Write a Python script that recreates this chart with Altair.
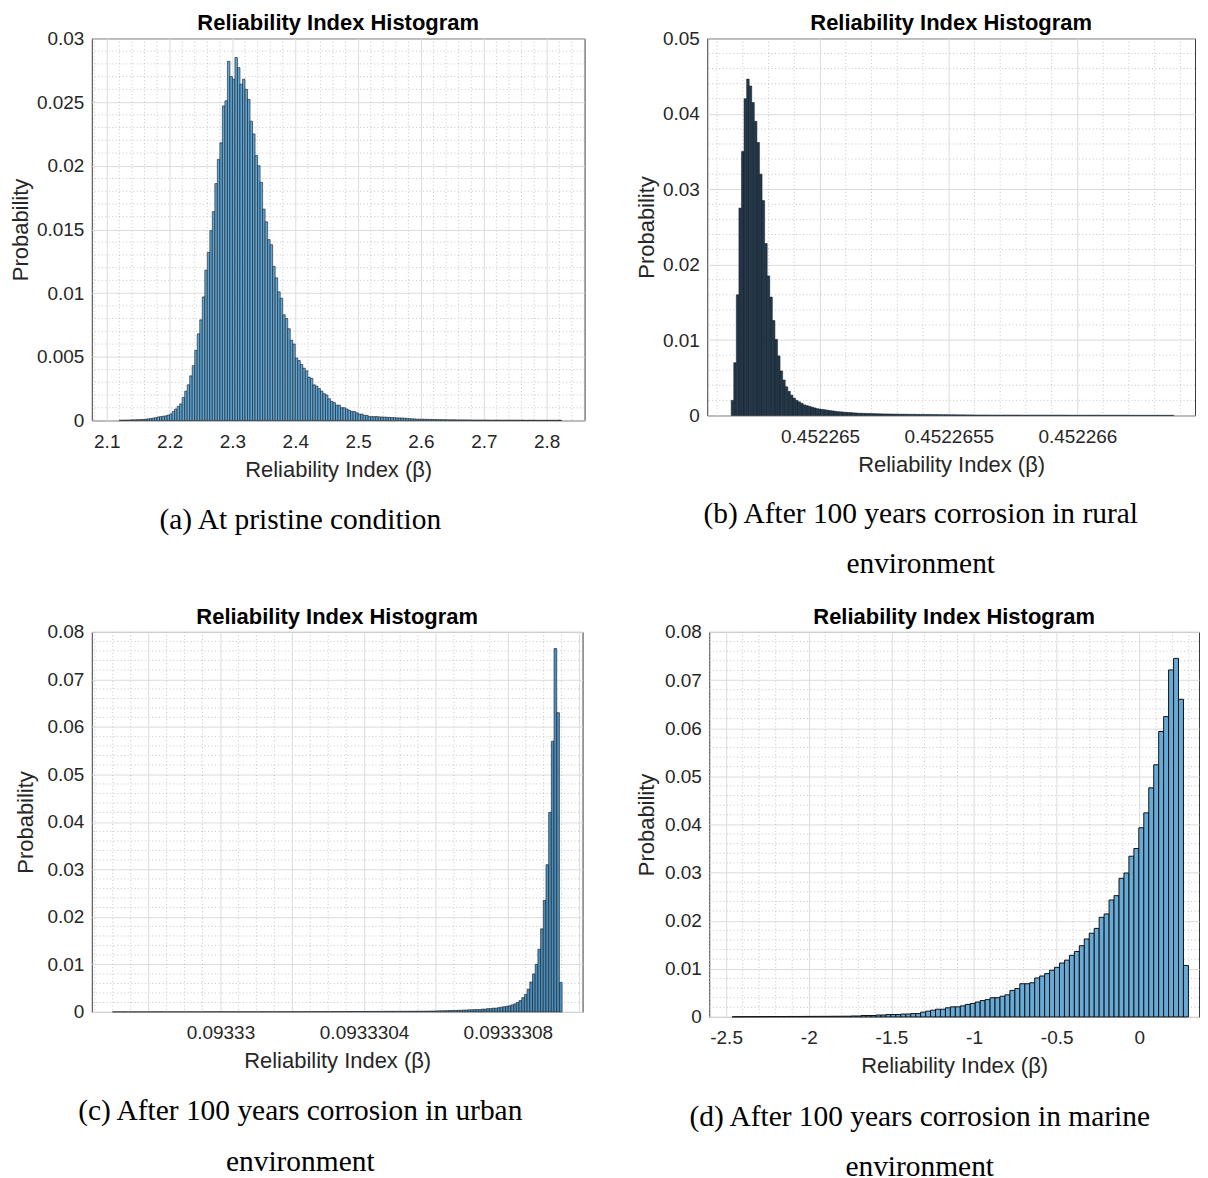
import altair as alt
import pandas as pd

FONT = "Liberation Sans, Arial, Helvetica, sans-serif"
SERIF = "Liberation Serif, Times New Roman, serif"
TITLE = "Reliability Index Histogram"
X_TITLE = "Reliability Index (β)"
Y_TITLE = "Probability"

# ---------------- (a) pristine ----------------
A_START, A_WIDTH = 2.12, 0.004
A_HEIGHTS = [
    0.00002, 0.00002, 0.00003, 0.00003, 0.00004, 0.00005, 0.00005, 0.00006, 0.00007, 0.00008,
    0.0001, 0.00012, 0.00015, 0.00018, 0.00022, 0.00027, 0.0003, 0.00033, 0.00036, 0.00042,
    0.0005, 0.0007, 0.0009, 0.0011, 0.0013, 0.0018, 0.0023, 0.0028, 0.0035, 0.0043,
    0.0055, 0.0068, 0.0079, 0.0097, 0.0118, 0.0132,
    0.0149, 0.0164, 0.0186, 0.0205, 0.0218, 0.0247, 0.0251, 0.0282, 0.027, 0.0268,
    0.0285, 0.0277, 0.0264, 0.0268, 0.026, 0.0252, 0.0235, 0.0225, 0.0208, 0.02,
    0.0187, 0.0166, 0.0156,
    0.0142, 0.0138, 0.0121, 0.0112, 0.0101, 0.0096, 0.0083, 0.008, 0.0072, 0.0063,
    0.006, 0.0049, 0.0047, 0.0044, 0.0041, 0.0039, 0.0034, 0.0033, 0.0028, 0.0027,
    0.0025, 0.0023, 0.0021, 0.002, 0.0017, 0.0015, 0.0014, 0.0012, 0.0012, 0.001,
    0.001, 0.0009, 0.0008, 0.0007, 0.0007, 0.0006, 0.0005, 0.0005, 0.0004, 0.0004,
    0.0003,
    0.0003, 0.0003, 0.0003, 0.00028, 0.00027, 0.00026, 0.00025, 0.00024, 0.00023, 0.00022,
    0.0002, 0.0002, 0.00019, 0.00018, 0.00016, 0.00014, 0.00013, 0.00012, 0.0001, 0.0001,
    0.0001, 0.00009, 0.00009, 0.00008, 0.00008, 0.00007,
    0.00007, 0.00006, 0.00006, 0.00006, 0.00005, 0.00005, 0.00005, 0.00005, 0.00004, 0.00004,
    0.00004, 0.00004, 0.00004, 0.00003, 0.00003, 0.00003, 0.00003, 0.00003, 0.00003, 0.00003,
    0.00003, 0.00002, 0.00002, 0.00002, 0.00002, 0.00002, 0.00002, 0.00002, 0.00002, 0.00002,
    0.00002, 0.00002, 0.00002, 0.00001, 0.00002, 0.00001, 0.00001, 0.00002, 0.00001, 0.00001,
    0.00001, 0.00001, 0.00001, 0.00001, 0.00001, 0.00001, 0.00001, 0.00001, 0.00001, 0.00001,
]
A_XDOMAIN = [2.0762, 2.8603]
A_YDOMAIN = [0, 0.03]
A_XTICKS = [2.1, 2.2, 2.3, 2.4, 2.5, 2.6, 2.7, 2.8]
A_YTICKS = [0, 0.005, 0.01, 0.015, 0.02, 0.025, 0.03]
A_CAPTION = ["(a) At pristine condition"]

# ---------------- (b) rural ----------------
B_START, B_WIDTH = 0.4522646546, 1e-8
B_HEIGHTS = [
    0.002, 0.007, 0.016, 0.0275, 0.035, 0.042, 0.0446, 0.0437, 0.0415, 0.039,
    0.0362, 0.032, 0.0285, 0.0228, 0.0185, 0.0157, 0.0126, 0.0101, 0.0079, 0.0059,
    0.0047, 0.0038, 0.0032, 0.0027, 0.0023, 0.002, 0.0018, 0.0016, 0.0014, 0.0013,
    0.0012, 0.0011, 0.001, 0.0009, 0.00085, 0.0008, 0.00075, 0.0007, 0.00065, 0.0006,
    0.00055, 0.0005, 0.00048, 0.00045, 0.00042, 0.0004, 0.00038, 0.00035, 0.00033, 0.0003,
    0.00029, 0.00028, 0.00027, 0.00026, 0.00025, 0.00024, 0.00023, 0.00022, 0.00021, 0.0002,
    0.0002, 0.00019, 0.00019, 0.00018, 0.00018, 0.00017, 0.00017, 0.00016, 0.00016, 0.00015,
    0.00015, 0.00015, 0.00014, 0.00014, 0.00014, 0.00013, 0.00013, 0.00013, 0.00012, 0.00012,
    0.00011, 0.00011, 0.0001, 0.0001, 0.0001, 0.00009, 0.00009, 0.00009, 0.00008, 0.00008,
    0.00008, 0.00007, 0.00007, 0.00007, 0.00007, 0.00006, 0.00006, 0.00006, 0.00006, 0.00006,
    0.00005, 0.00005, 0.00005, 0.00005, 0.00005, 0.00005, 0.00005, 0.00005, 0.00005, 0.00005,
    0.00005, 0.00005, 0.00004, 0.00004, 0.00004, 0.00004, 0.00004, 0.00004, 0.00004, 0.00004,
    0.00004, 0.00004, 0.00004, 0.00004, 0.00004, 0.00004, 0.00004, 0.00004, 0.00004, 0.00004,
    0.00004, 0.00003, 0.00003, 0.00003, 0.00003, 0.00003, 0.00003, 0.00003, 0.00003, 0.00003,
    0.00003, 0.00003, 0.00003, 0.00003, 0.00003, 0.00003, 0.00003, 0.00003, 0.00003, 0.00003,
    0.00003, 0.00003, 0.00003, 0.00003, 0.00003, 0.00002, 0.00002, 0.00002, 0.00002, 0.00002,
    0.00002, 0.00002, 0.00002, 0.00002, 0.00002, 0.00002, 0.00002, 0.00002, 0.00002, 0.00002,
    0.00002, 0.00002,
]
B_XDOMAIN = [0.4522645616, 0.452266457]
B_YDOMAIN = [0, 0.05]
B_XTICKS = [0.452265, 0.4522655, 0.452266]
B_YTICKS = [0, 0.01, 0.02, 0.03, 0.04, 0.05]
B_CAPTION = ["(b) After 100 years corrosion in rural", "environment"]

# ---------------- (c) urban ----------------
C_START, C_WIDTH = 0.0933296989, 7.5e-9
C_HEIGHTS = [
    0.00002, 0.00002, 0.00002, 0.00002, 0.00002, 0.00002, 0.00002, 0.00002, 0.00002, 0.00002,
    0.00002, 0.00002, 0.00002, 0.00002, 0.00002, 0.00003, 0.00003, 0.00003, 0.00003, 0.00003,
    0.00003, 0.00003, 0.00003, 0.00003, 0.00003, 0.00003, 0.00003, 0.00003, 0.00003, 0.00003,
    0.00003, 0.00003, 0.00003, 0.00003, 0.00003, 0.00004, 0.00004, 0.00004, 0.00004, 0.00004,
    0.00004, 0.00004, 0.00004, 0.00004, 0.00004, 0.00004, 0.00004, 0.00004, 0.00004, 0.00004,
    0.00004, 0.00004, 0.00004, 0.00004, 0.00004, 0.00005, 0.00005, 0.00005, 0.00005, 0.00005,
    0.00005, 0.00005, 0.00005, 0.00005, 0.00005, 0.00005, 0.00005, 0.00005, 0.00005, 0.00005,
    0.00006, 0.00006, 0.00006, 0.00006, 0.00006, 0.00007, 0.00007, 0.00007, 0.00007, 0.00007,
    0.00007, 0.00008, 0.00008, 0.00008, 0.00008, 0.00009, 0.00009, 0.00009, 0.00009, 0.00009,
    0.0001, 0.0001, 0.0001, 0.0001, 0.0001, 0.00011, 0.00011, 0.00011, 0.00011, 0.00011,
    0.00012, 0.00012, 0.00012, 0.00013, 0.00013, 0.00013, 0.00014, 0.00014, 0.00014, 0.00014,
    0.00015, 0.00015, 0.00015, 0.00016, 0.00016, 0.00016,
    0.00017, 0.00018, 0.0002, 0.0002, 0.00022, 0.00024, 0.00025, 0.00026, 0.00028, 0.0003,
    0.0003, 0.0003, 0.00035, 0.00035, 0.0004, 0.0004, 0.00045, 0.00045, 0.0005, 0.0005,
    0.0005, 0.0006, 0.0006, 0.0007, 0.0007, 0.0008, 0.0008, 0.0009, 0.001, 0.0011,
    0.0012, 0.0013, 0.0015, 0.0017, 0.002, 0.0024, 0.003, 0.0037, 0.0048, 0.0063,
    0.008, 0.01, 0.0132, 0.0175, 0.0235, 0.031, 0.042, 0.057, 0.0765, 0.063,
    0.0062,
]
C_XDOMAIN = [0.0933296417, 0.0933310083]
C_YDOMAIN = [0, 0.08]
C_XTICKS = [0.09333, 0.0933304, 0.0933308]
C_XTICKS_UNLABELED = [0.0933298, 0.0933302, 0.0933306, 0.093331]
C_YTICKS = [0, 0.01, 0.02, 0.03, 0.04, 0.05, 0.06, 0.07, 0.08]
C_CAPTION = ["(c) After 100 years corrosion in urban", "environment"]

# ---------------- (d) marine ----------------
D_START, D_WIDTH = -2.463, 0.03
D_HEIGHTS = [
    0.00004, 0.00005, 0.00005, 0.00006, 0.00006, 0.00007, 0.00007, 0.00008, 0.00008, 0.00009,
    0.00009, 0.0001, 0.0001, 0.0001, 0.00011, 0.00011, 0.00012, 0.00012, 0.00013, 0.00013,
    0.00014, 0.00014,
    0.00015, 0.00015, 0.0002, 0.0002, 0.0003, 0.0003, 0.0003, 0.0004, 0.0004, 0.0005,
    0.0005, 0.0005, 0.0006, 0.0006, 0.0007, 0.0007, 0.001, 0.0012, 0.0014, 0.0016,
    0.0016, 0.0019, 0.0021, 0.0021, 0.0023, 0.0026, 0.0028, 0.0031, 0.0034, 0.0036,
    0.004, 0.004, 0.0043, 0.0046, 0.0055, 0.0059, 0.0069, 0.0069, 0.0071, 0.0081,
    0.0085, 0.009, 0.0097, 0.0103, 0.0112, 0.0118, 0.0128, 0.0136, 0.0148, 0.0162,
    0.0174, 0.0184, 0.0207, 0.0214, 0.0243, 0.0252, 0.0288, 0.0299, 0.0334, 0.035,
    0.0393, 0.0424, 0.0476, 0.0524, 0.0593, 0.0624, 0.0721, 0.0745, 0.066, 0.0107,
]
D_XDOMAIN = [-2.602, 0.361]
D_YDOMAIN = [0, 0.08]
D_XTICKS = [-2.5, -2, -1.5, -1, -0.5, 0]
D_YTICKS = [0, 0.01, 0.02, 0.03, 0.04, 0.05, 0.06, 0.07, 0.08]
D_CAPTION = ["(d) After 100 years corrosion in marine", "environment"]


def bins(start, width, heights):
    return pd.DataFrame({
        "x0": [start + i * width for i in range(len(heights))],
        "x1": [start + (i + 1) * width for i in range(len(heights))],
        "p": heights,
    })


def minor(lo, step, n, majors, tol):
    out = []
    for i in range(n):
        v = lo + i * step
        if all(abs(v - m) > tol for m in majors):
            out.append(v)
    return out


MAJOR_GRID = "#dcdcdc"
MINOR_GRID = "#b8b8b8"
AX = dict(labelFont=FONT, titleFont=FONT, labelFontSize=19, titleFontSize=22,
          labelColor="#262626", titleColor="#262626", titleFontWeight="normal",
          domain=False, ticks=False, tickSize=0, gridColor=MAJOR_GRID, gridWidth=1,
          labelFlush=False, grid=True)


def panel(df, xdom, ydom, xticks, yticks, xminor, yminor, xextra, caption,
          cap_x, cap_y, cap_lh, W, H, ytitle_x, fill, stroke, sw, xfmt=None, xexpr=None):
    xs = alt.Scale(domain=xdom, nice=False, zero=False)
    ys = alt.Scale(domain=ydom, nice=False)
    xaxis_kw = dict(values=xticks, title=X_TITLE, labelPadding=12, titlePadding=8, **AX)
    if xfmt:
        xaxis_kw["format"] = xfmt
    if xexpr:
        xaxis_kw["labelExpr"] = xexpr
    xaxis = alt.Axis(**xaxis_kw)
    yaxis = alt.Axis(values=yticks, format="~g", title=Y_TITLE, labelPadding=8,
                     titleX=ytitle_x, titleY=H / 2, titleBaseline="middle",
                     titleAngle=270, **AX)

    layers = []
    layers.append(
        alt.Chart(pd.DataFrame({"v": xminor})).mark_rule(
            color=MINOR_GRID, strokeDash=[1, 2.5], strokeWidth=0.8
        ).encode(x=alt.X("v:Q", scale=xs, axis=xaxis))
    )
    layers.append(
        alt.Chart(pd.DataFrame({"v": yminor})).mark_rule(
            color=MINOR_GRID, strokeDash=[1, 2.5], strokeWidth=0.8
        ).encode(y=alt.Y("v:Q", scale=ys, axis=yaxis))
    )
    if xextra:
        layers.append(
            alt.Chart(pd.DataFrame({"v": xextra})).mark_rule(
                color=MAJOR_GRID, strokeWidth=1
            ).encode(x=alt.X("v:Q", scale=xs, axis=xaxis))
        )
    layers.append(
        alt.Chart(df).mark_rect(fill=fill, stroke=stroke, strokeWidth=sw).encode(
            x=alt.X("x0:Q", scale=xs, axis=xaxis),
            x2="x1:Q",
            y=alt.Y("p:Q", scale=ys, axis=yaxis),
            y2=alt.datum(0),
        )
    )
    for i, line in enumerate(caption):
        layers.append(
            alt.Chart(pd.DataFrame({"t": [line]})).mark_text(
                font=SERIF, fontSize=29.5, align="center", baseline="alphabetic",
                color="black"
            ).encode(x=alt.value(cap_x), y=alt.value(cap_y + i * cap_lh), text="t:N")
        )
    return alt.layer(*layers).properties(
        width=W, height=H,
        title=alt.TitleParams(TITLE, font=FONT, fontSize=22, fontWeight="bold",
                              color="black", offset=-6, anchor="middle", frame="group"),
    )


a = panel(bins(A_START, A_WIDTH, A_HEIGHTS), A_XDOMAIN, A_YDOMAIN, A_XTICKS, A_YTICKS,
          minor(2.08, 0.02, 40, A_XTICKS, 1e-6), minor(0, 0.001, 31, A_YTICKS, 1e-7), None,
          A_CAPTION, 209, 492, 50, 494, 383, -71, "#5da6d8", "#1a1a1a", 0.6, xfmt=".1f")

b = panel(bins(B_START, B_WIDTH, B_HEIGHTS), B_XDOMAIN, B_YDOMAIN, B_XTICKS, B_YTICKS,
          minor(0.4522646, 1e-7, 19, B_XTICKS, 1e-9), minor(0, 0.002, 26, B_YTICKS, 1e-7), None,
          B_CAPTION, 214, 486, 50, 489, 378, -61, "#23394b", "#101820", 0.5, xfmt=".7~f")

c = panel(bins(C_START, C_WIDTH, C_HEIGHTS), C_XDOMAIN, C_YDOMAIN, C_XTICKS, C_YTICKS,
          minor(0.09332965, 5e-8, 28, C_XTICKS + C_XTICKS_UNLABELED, 1e-9),
          minor(0, 0.002, 41, C_YTICKS, 1e-7), C_XTICKS_UNLABELED,
          C_CAPTION, 209, 489, 51, 492, 381, -66, "#4a8fc0", "#1a1a1a", 0.6, xfmt=".7~f")

d = panel(bins(D_START, D_WIDTH, D_HEIGHTS), D_XDOMAIN, D_YDOMAIN, D_XTICKS, D_YTICKS,
          minor(-2.6, 0.1, 30, D_XTICKS, 1e-6), minor(0, 0.002, 41, D_YTICKS, 1e-7), None,
          D_CAPTION, 211, 495, 50, 491, 386, -63, "#66aad7", "#111111", 1,
          xexpr="'' + datum.value")

chart = alt.vconcat(
    alt.hconcat(a, b, spacing=49),
    alt.hconcat(c, d, spacing=51),
    spacing=26,
).properties(
    padding={"left": 1, "top": 2, "right": 0, "bottom": 0},
    background="white",
).configure_view(
    stroke="#3a3a3a", strokeWidth=1
)

chart.save("out.html", embed_options={"renderer": "svg", "actions": False})
